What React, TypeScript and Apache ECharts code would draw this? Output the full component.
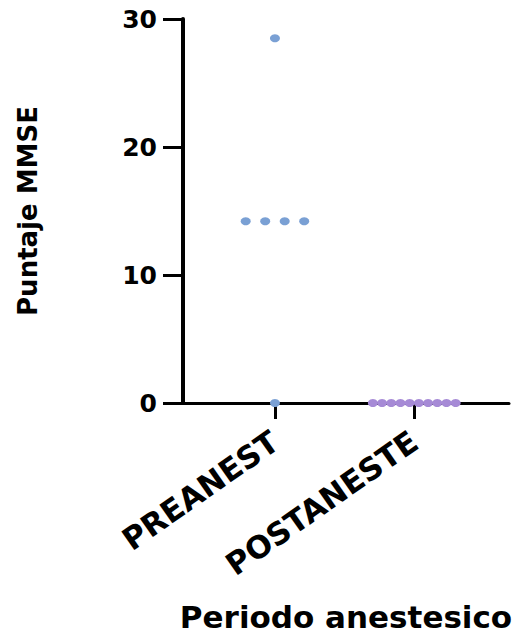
import React, { useEffect, useRef } from "react";
import * as echarts from "echarts";

const categories = ["PREANEST", "POSTANESTE"];
const categoryPositions = [1, 2];
const preValues = [28.5, 14.2, 14.2, 14.2, 14.2, 0];
const postValues = [0, 0, 0, 0, 0, 0, 0, 0, 0, 0];
const yTickLabels = [0, 10, 20, 30];

const FONT = "DejaVu Sans";

function swarm(pos: number, values: number[], spacing: number) {
  const groups: Record<string, number> = {};
  values.forEach((v) => {
    groups[v] = (groups[v] || 0) + 1;
  });
  const seen: Record<string, number> = {};
  return values.map((v) => {
    const n = groups[v];
    const i = seen[v] || 0;
    seen[v] = i + 1;
    return {
      value: [pos, v],
      symbolOffset: [(i - (n - 1) / 2) * spacing, 0],
    };
  });
}

export default function App() {
  const ref = useRef<HTMLDivElement>(null);
  useEffect(() => {
    if (!ref.current) return;
    const chart = echarts.init(ref.current, null, { renderer: "svg" });
    chart.setOption({
      animation: false,
      backgroundColor: "#ffffff",
      grid: {
        left: 183,
        right: 15,
        top: 19,
        bottom: 236,
        containLabel: false,
        outerBoundsMode: "none",
      },
      xAxis: {
        type: "value",
        min: 0.34,
        max: 2.68,
        name: "Periodo anestesico",
        nameLocation: "middle",
        nameGap: 198,
        nameTextStyle: {
          fontFamily: FONT,
          fontWeight: "bold",
          fontSize: 31,
          color: "#000",
        },
        splitLine: { show: false },
        axisLine: { show: true, lineStyle: { color: "#000", width: 3 } },
        axisTick: {
          show: true,
          customValues: categoryPositions,
          length: 16,
          lineStyle: { color: "#000", width: 3 },
        },
        axisLabel: {
          customValues: categoryPositions,
          formatter: (v: number) => categories[categoryPositions.indexOf(v)] ?? "",
          rotate: 35,
          margin: 35,
          fontFamily: FONT,
          fontWeight: "bold",
          fontSize: 31,
          color: "#000",
        },
      },
      yAxis: {
        type: "value",
        min: yTickLabels[0],
        max: yTickLabels[yTickLabels.length - 1],
        interval: 10,
        name: "Puntaje MMSE",
        nameLocation: "middle",
        nameGap: 142,
        nameTextStyle: {
          fontFamily: FONT,
          fontWeight: "bold",
          fontSize: 26,
          color: "#000",
        },
        splitLine: { show: false },
        axisLine: { show: true, lineStyle: { color: "#000", width: 4 } },
        axisTick: {
          show: true,
          length: 20,
          lineStyle: { color: "#000", width: 3 },
        },
        axisLabel: {
          margin: 26,
          fontFamily: FONT,
          fontWeight: "bold",
          fontSize: 25,
          color: "#000",
        },
      },
      series: [
        {
          type: "scatter",
          name: categories[0],
          symbol: "circle",
          symbolSize: [10, 8],
          itemStyle: { color: "#7AA0D4", opacity: 1 },
          data: swarm(categoryPositions[0], preValues, 19.5),
        },
        {
          type: "scatter",
          name: categories[1],
          symbol: "circle",
          symbolSize: [10, 8],
          itemStyle: { color: "#A68AD6", opacity: 1 },
          data: swarm(categoryPositions[1], postValues, 9.2),
        },
      ],
    });
    return () => chart.dispose();
  }, []);
  return (
    <div
      ref={ref}
      style={{ position: "absolute", left: 0, top: 0, width: 524, height: 639 }}
    />
  );
}
